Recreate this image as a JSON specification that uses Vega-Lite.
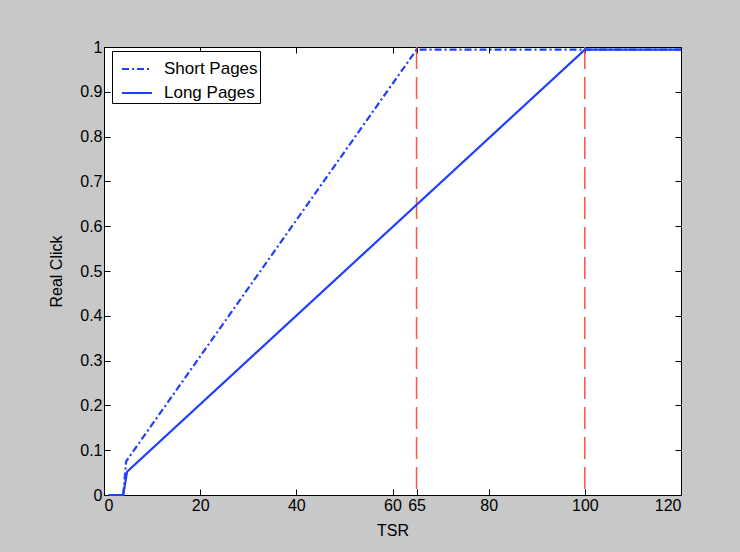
{
  "$schema": "https://vega.github.io/schema/vega-lite/v6.json",
  "width": 577,
  "height": 448,
  "autosize": {"type": "none"},
  "padding": {"left": 104, "top": 47, "right": 59, "bottom": 57},
  "background": "#C8C8C8",
  "config": {
    "font": "Liberation Sans",
    "view": {"fill": "white", "stroke": "black", "strokeWidth": 1},
    "axis": {
      "grid": false,
      "domain": false,
      "tickColor": "black",
      "tickSize": -6,
      "tickWidth": 1,
      "labelColor": "black",
      "labelFontSize": 16,
      "labelFont": "Liberation Sans",
      "labelPadding": 8,
      "labelOverlap": false,
      "titleColor": "black",
      "titleFontSize": 16,
      "titleFontWeight": "normal",
      "titleFont": "Liberation Sans"
    }
  },
  "datasets": {
    "curves": [
      {"series": "Short Pages", "TSR": 1, "click": 0},
      {"series": "Short Pages", "TSR": 4, "click": 0},
      {"series": "Short Pages", "TSR": 4.6, "click": 0.075},
      {"series": "Short Pages", "TSR": 65, "click": 0.994},
      {"series": "Short Pages", "TSR": 120, "click": 0.994},
      {"series": "Long Pages", "TSR": 1, "click": 0},
      {"series": "Long Pages", "TSR": 4, "click": 0},
      {"series": "Long Pages", "TSR": 4.8, "click": 0.052},
      {"series": "Long Pages", "TSR": 100, "click": 0.994},
      {"series": "Long Pages", "TSR": 120, "click": 0.994}
    ],
    "refs": [{"TSR": 65}, {"TSR": 100}]
  },
  "layer": [
    {
      "data": {"name": "refs"},
      "mark": {"type": "rule", "color": "#ff5040", "strokeWidth": 1.5, "strokeDash": [22, 8]},
      "encoding": {
        "x": {
          "field": "TSR", "type": "quantitative",
          "scale": {"domain": [0, 120], "nice": false},
          "axis": {"orient": "top", "labels": false, "title": null, "values": [0, 20, 40, 60, 65, 80, 100, 120]}
        }
      }
    },
    {
      "data": {"name": "curves"},
      "mark": {"type": "line", "color": "#1f3fff", "strokeWidth": 2.2},
      "encoding": {
        "x": {
          "field": "TSR", "type": "quantitative",
          "scale": {"domain": [0, 120], "nice": false},
          "axis": {"orient": "bottom", "title": "TSR", "titlePadding": 9, "values": [0, 20, 40, 60, 65, 80, 100, 120]}
        },
        "y": {
          "field": "click", "type": "quantitative",
          "scale": {"domain": [0, 1], "nice": false},
          "axis": {"orient": "left", "title": "Real Click", "titlePadding": 15, "format": "~g", "values": [0, 0.1, 0.2, 0.3, 0.4, 0.5, 0.6, 0.7, 0.8, 0.9, 1]}
        },
        "strokeDash": {
          "field": "series", "type": "nominal",
          "scale": {"domain": ["Short Pages", "Long Pages"], "range": [[7, 3, 2, 3], [1, 0]]},
          "legend": {
            "orient": "none", "legendX": 8, "legendY": 4, "title": null,
            "fillColor": "white", "strokeColor": "black", "padding": 2,
            "symbolType": "stroke", "symbolSize": 900, "symbolStrokeWidth": 2, "symbolStrokeColor": "#1f3fff",
            "symbolOffset": 7,
            "labelFontSize": 17, "labelColor": "black", "labelOffset": 11, "rowPadding": -3,
            "labelExpr": "datum.label + '\u00a0\u00a0\u00a0'"
          }
        }
      }
    },
    {
      "data": {"name": "curves"},
      "mark": {"type": "point", "opacity": 0},
      "encoding": {
        "x": {"field": "TSR", "type": "quantitative", "scale": {"domain": [0, 120], "nice": false}, "axis": null},
        "y": {
          "field": "click", "type": "quantitative",
          "scale": {"domain": [0, 1], "nice": false},
          "axis": {"orient": "right", "labels": false, "title": null, "values": [0, 0.1, 0.2, 0.3, 0.4, 0.5, 0.6, 0.7, 0.8, 0.9, 1]}
        }
      }
    }
  ],
  "resolve": {"axis": {"x": "independent", "y": "independent"}}
}
